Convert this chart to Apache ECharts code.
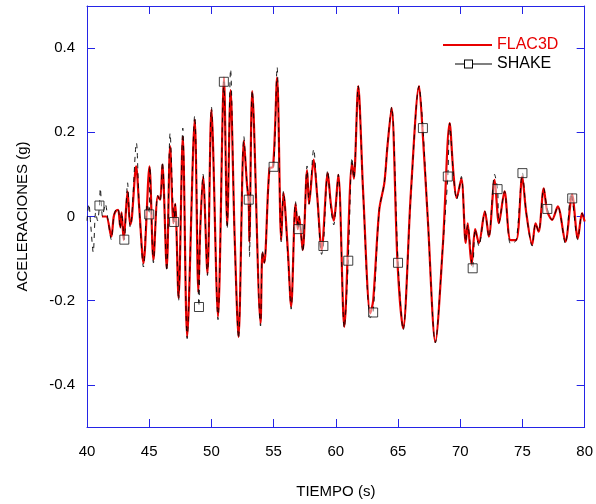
<!DOCTYPE html>
<html>
<head>
<meta charset="utf-8">
<script src="https://cdn.jsdelivr.net/npm/echarts@6/dist/echarts.min.js"></script>
<style>
html,body{margin:0;padding:0;background:#fff;}
#chart{width:596px;height:504px;}
</style>
</head>
<body>
<div id="chart"></div>
<script>
// ---- data ----
var xTicks = [40, 45, 50, 55, 60, 65, 70, 75, 80];
var yTicks = [-0.4, -0.2, 0, 0.2, 0.4];

var flacTime = [41.2, 41.55, 41.95, 42.15, 42.3, 42.5, 42.67, 42.78, 42.95, 43.26, 43.47, 43.6, 43.95, 44.2, 44.54,
  45.02, 45.34, 45.69, 45.88, 46.06, 46.41, 46.68, 46.95, 47.09, 47.36, 47.7, 48.05, 48.66, 48.95, 49.1, 49.33,
  49.68, 50.0, 50.53, 51.01, 51.27, 51.54, 51.86, 52.18, 52.61, 52.85, 53.0, 53.05, 53.28, 53.95, 54.1, 54.25,
  54.67, 54.95, 55.28, 55.61, 55.79, 56.14, 56.41, 56.76, 56.94, 57.05, 57.34, 57.69, 57.85, 58.22, 58.5, 58.86,
  59.35, 59.6, 59.83, 60.2, 60.68, 61.3, 61.45, 61.8, 62.2, 62.77, 63.0, 63.49, 63.9, 64.15, 64.48, 64.96, 65.41,
  66.03, 66.69, 66.96, 67.4, 68.0, 68.6, 69.15, 69.45, 69.71, 70.09, 70.44, 70.6, 70.91, 71.2, 71.5, 71.98, 72.3,
  72.76, 73.11, 73.56, 74.04, 74.5, 74.98, 75.3, 75.78, 76.05, 76.3, 76.71, 76.98, 77.38, 77.84, 78.45, 78.99,
  79.45, 79.79, 80.0];
var flacAcc = [0, 0.0, -0.048, 0.0, 0.012, 0.016, -0.025, 0.01, -0.056, 0.06, -0.02, -0.005, 0.119, 0.02, -0.111,
  0.119, -0.103, 0.048, 0.04, 0.123, -0.123, 0.167, -0.016, 0.03, -0.194, 0.19, -0.286, 0.23, -0.18, -0.03, 0.095,
  -0.135, 0.254, -0.238, 0.33, -0.02, 0.30, -0.04, -0.286, 0.18, 0.08, 0.03, -0.06, 0.298, -0.254, -0.087, -0.11,
  0.115, 0.117, 0.33, -0.056, 0.056, -0.08, -0.214, 0.03, -0.03, 0.0, -0.08, 0.11, 0.03, 0.135, 0.05, -0.08,
  0.103, 0.03, -0.01, 0.099, -0.262, 0.127, 0.09, 0.31, 0.055, -0.23, -0.2, 0.016, 0.08, 0.167, 0.258, -0.111, -0.266,
  0.056, 0.31, 0.21, -0.01, -0.298, -0.07, 0.222, 0.103, 0.044, 0.09, -0.063, -0.016, -0.115, -0.03, -0.063, 0.012, -0.048,
  0.087, -0.016, 0.06, -0.056, -0.056, 0.095, 0.01, -0.067, -0.016, -0.036, 0.067, 0.014, -0.008, 0.024, -0.06, 0.052,
  -0.052, 0.008, -0.012];

var shakeTime = [40.0, 40.15, 40.3, 40.5, 40.7, 40.85, 41.0, 41.07, 41.25, 41.47, 41.7, 41.95, 42.15, 42.3, 42.5,
  42.67, 42.78, 43.0, 43.26, 43.47, 43.6, 43.97, 44.2, 44.54, 44.85, 45.0, 45.05, 45.34, 45.69, 45.88, 46.06, 46.41,
  46.68, 47.0, 47.09, 47.36, 47.7, 48.05, 48.66, 49.0, 49.1, 49.33, 49.68, 50.0, 50.53, 51.0, 51.27, 51.54, 51.86,
  52.18, 52.61, 52.85, 53.0, 53.06, 53.28, 53.95, 54.1, 54.25, 54.67, 55.0, 55.28, 55.61, 55.79, 56.14, 56.41,
  56.76, 57.0, 57.05, 57.34, 57.69, 57.85, 58.22, 58.5, 58.86, 59.0, 59.35, 59.6, 59.83, 60.2, 60.68, 61.0, 61.3,
  61.45, 61.8, 62.2, 62.77, 63.0, 63.49, 63.9, 64.15, 64.48, 65.0, 65.41, 66.03, 66.69, 67.0, 67.4, 68.0, 68.6,
  69.0, 69.15, 69.45, 69.71, 70.09, 70.44, 70.6, 71.0, 71.2, 71.5, 71.98, 72.3, 72.76, 73.0, 73.11, 73.56, 74.04,
  74.5, 75.0, 75.3, 75.78, 76.05, 76.3, 76.71, 77.0, 77.38, 77.84, 78.45, 78.9, 79.0, 79.45, 79.79, 80.0];
var shakeAcc = [-0.01, 0.03, -0.02, -0.085, 0.01, -0.01, 0.026, 0.067, 0.0, 0.03, -0.01, -0.055, 0.0, 0.015, 0.02,
  -0.03, 0.01, -0.055, 0.08, -0.025, 0.0, 0.175, 0.02, -0.12, 0.03, 0.005, 0.12, -0.11, 0.05, 0.035, 0.13, -0.13,
  0.198, -0.013, 0.03, -0.2, 0.21, -0.29, 0.24, -0.215, -0.04, 0.1, -0.14, 0.26, -0.245, 0.32, -0.03, 0.35, -0.05,
  -0.29, 0.19, 0.08, 0.04, -0.095, 0.3, -0.26, -0.08, -0.11, 0.11, 0.118, 0.355, -0.06, 0.06, -0.09, -0.22,
  0.035, -0.03, 0.0, -0.085, 0.12, 0.03, 0.16, 0.05, -0.09, -0.07, 0.11, 0.02, -0.02, 0.1, -0.265, -0.105, 0.14,
  0.09, 0.31, 0.05, -0.24, -0.228, 0.016, 0.08, 0.17, 0.26, -0.11, -0.27, 0.05, 0.31, 0.21, -0.01, -0.3, -0.07,
  0.095, 0.222, 0.1, 0.04, 0.095, -0.06, -0.02, -0.123, -0.03, -0.07, 0.012, -0.05, 0.1, 0.065, -0.016, 0.06, -0.065,
  -0.056, 0.103, 0.01, -0.07, -0.016, -0.036, 0.067, 0.018, -0.008, 0.024, -0.065, 0.055, 0.043, -0.055, 0.008, -0.012];

var markerTimes = [41, 43, 45, 47, 49, 51, 53, 55, 57, 59, 61, 63, 65, 67, 69, 71, 73, 75, 77, 79];

// ---- build ----
var flacData = flacTime.map(function (t, i) { return [t, flacAcc[i]]; });
var shakeData = shakeTime.map(function (t, i) { return [t, shakeAcc[i]]; });
var markerData = [];
shakeTime.forEach(function (t, i) {
  if (markerTimes.indexOf(t) >= 0) markerData.push([t, shakeAcc[i]]);
});

var BLUE = '#2424e6';
var RED = '#e80000';
var FONT = '"Liberation Sans", Arial, Helvetica, sans-serif';
// legend glyph for SHAKE: short line, hollow square, longer line
var SHAKE_ICON = 'path://M0,6.5H9V7.5H0Z M9,2.5H18V11.5H9Z M10,3.5V10.5H17V3.5Z M18,6.5H37V7.5H18Z';

var chart = echarts.init(document.getElementById('chart'), null, { renderer: 'canvas' });

function frameAxis(extra) {
  var base = {
    type: 'value',
    axisLine: { show: true, onZero: false, lineStyle: { color: BLUE, width: 1 } },
    axisTick: { show: true, inside: true, length: 8, lineStyle: { color: BLUE, width: 1 } },
    splitLine: { show: false },
    axisLabel: { show: false }
  };
  for (var k in extra) base[k] = extra[k];
  return base;
}

chart.setOption({
  animation: false,
  backgroundColor: '#fff',
  grid: { left: 87, right: 10, top: 6, bottom: 76, containLabel: false },
  legend: [
    {
      data: [{ name: 'FLAC3D', icon: 'rect' }], left: 443, top: 37, orient: 'vertical', padding: 0,
      itemWidth: 49, itemHeight: 2, itemGap: 5,
      itemStyle: { color: RED },
      textStyle: { color: RED, fontSize: 16, fontFamily: FONT },
      selectedMode: false
    },
    {
      data: [{ name: 'SHAKE', icon: SHAKE_ICON }], left: 455, top: 56, orient: 'vertical', padding: 0,
      itemWidth: 37, itemHeight: 14, itemGap: 5, symbolKeepAspect: true,
      itemStyle: { color: '#000', borderWidth: 0 },
      lineStyle: { width: 0 },
      textStyle: { color: '#000', fontSize: 16, fontFamily: FONT },
      selectedMode: false
    }
  ],
  xAxis: [
    frameAxis({
      position: 'bottom', min: 40, max: 80, interval: 5,
      axisLabel: { show: true, fontSize: 15, fontFamily: FONT, color: '#000', margin: 17,
        formatter: function (v) { return xTicks.indexOf(v) >= 0 ? String(v) : ''; } },
      name: 'TIEMPO (s)', nameLocation: 'middle', nameGap: 57,
      nameTextStyle: { fontSize: 15, fontFamily: FONT, color: '#000' }
    }),
    frameAxis({ position: 'top', min: 40, max: 80, interval: 5 })
  ],
  yAxis: [
    frameAxis({
      position: 'left', min: -0.5, max: 0.5, splitNumber: 5,
      axisLabel: { show: true, fontSize: 15, fontFamily: FONT, color: '#000', margin: 12,
        showMinLabel: false, showMaxLabel: false,
        formatter: function (v) {
          var r = Math.round(v * 10) / 10;
          return yTicks.indexOf(r) >= 0 ? String(r) : '';
        } },
      name: 'ACELERACIONES (g)', nameLocation: 'middle', nameGap: 57,
      nameTextStyle: { fontSize: 15, fontFamily: FONT, color: '#000' }
    }),
    frameAxis({ position: 'right', min: -0.5, max: 0.5, splitNumber: 5 })
  ],
  series: [
    {
      name: 'FLAC3D', type: 'line', xAxisIndex: 0, yAxisIndex: 0,
      data: flacData, symbol: 'none', smooth: 0.3,
      lineStyle: { color: RED, width: 2.2 },
      itemStyle: { color: RED },
      z: 2
    },
    {
      name: 'SHAKE', type: 'line', xAxisIndex: 0, yAxisIndex: 0,
      data: shakeData, symbol: 'none', smooth: 0.3,
      lineStyle: { color: '#000', width: 0.9, type: [5, 5] },
      itemStyle: { color: '#000' },
      z: 3
    },
    {
      name: 'SHAKE markers', type: 'scatter', xAxisIndex: 0, yAxisIndex: 0,
      data: markerData, symbol: 'rect', symbolSize: 9,
      itemStyle: { color: 'rgba(255,255,255,0.6)', borderColor: '#111', borderWidth: 1 },
      z: 4
    }
  ]
});
</script>
</body>
</html>
